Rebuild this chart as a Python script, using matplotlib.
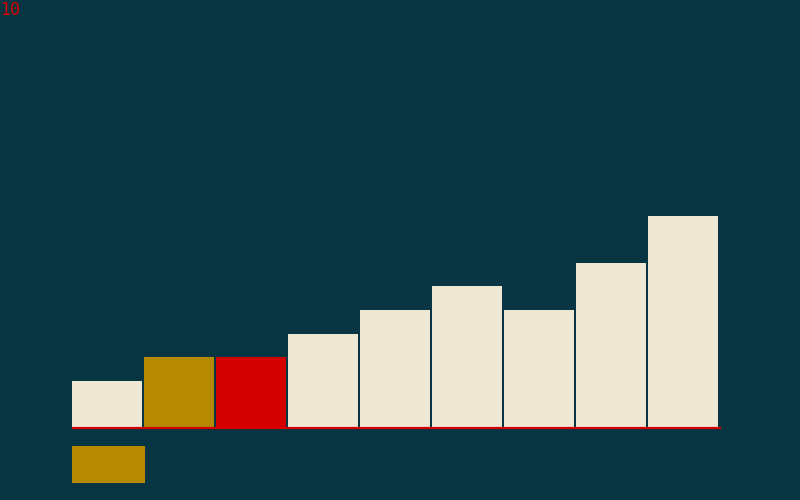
import matplotlib.pyplot as plt
from matplotlib.patches import Rectangle

values = [2, 3, 3, 4, 5, 6, 5, 7, 9]
colors = ['#eee8d5', '#b58900', '#d40000', '#eee8d5', '#eee8d5',
          '#eee8d5', '#eee8d5', '#eee8d5', '#eee8d5']
step_label = '10'

bg = '#073642'
fig = plt.figure(figsize=(8, 5), dpi=100, facecolor=bg)
ax = fig.add_axes([0.09, 0.144, 0.81, 0.708])
ax.set_facecolor(bg)

ax.bar(range(len(values)), values, width=70 / 72, align='edge',
       color=colors, linewidth=0)
# baseline
ax.hlines(-0.02, 0, len(values) + 1 / 72, color='#d40000', linewidth=1.6,
          clip_on=False, zorder=5)

# marker under the first bars
ax.add_patch(Rectangle((0, -2.33), 73 / 72, 1.57, color='#b58900',
                       clip_on=False, linewidth=0))

ax.set_xlim(0, len(values))
ax.set_ylim(0, 15)
ax.axis('off')

fig.text(0.0, 0.998, step_label, color='#d40000', fontsize=12,
         family='DejaVu Sans Mono', ha='left', va='top')

fig.savefig('out.png', dpi=100, facecolor=bg)
